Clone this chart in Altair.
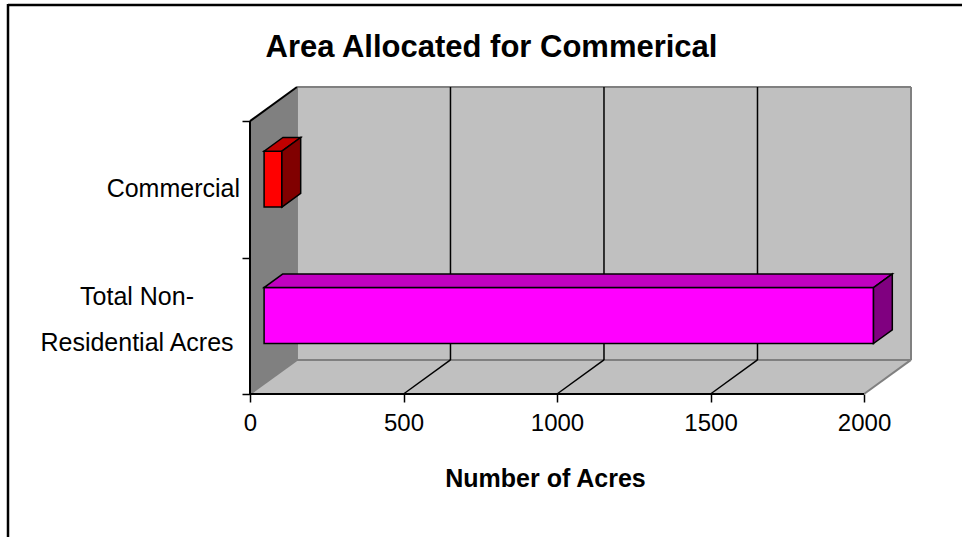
import altair as alt
import pandas as pd

# ---- data ----------------------------------------------------------------
categories = ["Total Non-Residential Acres", "Commercial"]
label_lines = [["Total Non-", "Residential Acres"], ["Commercial"]]
acres = [1985, 58]
front_colors = ["#FF00FF", "#FF0000"]
top_colors = ["#C000C0", "#C00000"]
side_colors = ["#800080", "#800000"]
x_ticks = [0, 500, 1000, 1500, 2000]

# ---- 3-D box geometry (oblique projection in data units) ------------------
X_MAX = 2000          # front-plane extent of the value axis
DEPTH_X = 153         # horizontal shift of the back wall, in acres
DEPTH_Y = 0.25        # vertical shift of the back wall, in category bands
N_BANDS = len(categories)
BAR_HALF = 0.205      # half bar thickness, in bands
D0, D1 = 0.3, 0.7     # bar depth span (0 = front plane, 1 = back wall)

FONT = "Liberation Sans"

x_scale = alt.Scale(domain=[0, X_MAX + DEPTH_X], nice=False, zero=False)
y_scale = alt.Scale(domain=[0, N_BANDS + DEPTH_Y], nice=False, zero=False)


def proj(v, h, d):
    """Project (value, height, depth) onto the chart plane."""
    return v + d * DEPTH_X, h + d * DEPTH_Y


# back wall
back_wall = pd.DataFrame([{
    "x": DEPTH_X, "x2": X_MAX + DEPTH_X, "y": DEPTH_Y, "y2": N_BANDS + DEPTH_Y}])
# floor: horizontal-edged parallelogram
floor = pd.DataFrame([
    {"y": 0.0, "x": 0.0, "x2": float(X_MAX)},
    {"y": DEPTH_Y, "x": DEPTH_X, "x2": X_MAX + DEPTH_X},
])
# left side wall: vertical-edged parallelogram
side_wall = pd.DataFrame([
    {"x": 0.0, "y": 0.0, "y2": float(N_BANDS)},
    {"x": DEPTH_X, "y": DEPTH_Y, "y2": N_BANDS + DEPTH_Y},
])

# grid lines on the back wall and across the floor
grid_back = pd.DataFrame([{"x": v + DEPTH_X, "y": DEPTH_Y, "y2": N_BANDS + DEPTH_Y}
                          for v in x_ticks[1:-1]])
grid_floor = pd.DataFrame([{"x": v, "y": 0.0, "x2": v + DEPTH_X, "y2": DEPTH_Y}
                           for v in x_ticks[1:-1]])

# gray outline edges of the box
gray_edges = pd.DataFrame([
    {"x": 0.0, "y": 0.0, "x2": DEPTH_X, "y2": DEPTH_Y},                       # wall/floor seam
    {"x": DEPTH_X, "y": DEPTH_Y, "x2": X_MAX + DEPTH_X, "y2": DEPTH_Y},       # floor back edge
    {"x": float(X_MAX), "y": 0.0, "x2": X_MAX + DEPTH_X, "y2": DEPTH_Y},      # floor right edge
    {"x": X_MAX + DEPTH_X, "y": DEPTH_Y, "x2": X_MAX + DEPTH_X, "y2": N_BANDS + DEPTH_Y},
    {"x": DEPTH_X, "y": N_BANDS + DEPTH_Y, "x2": X_MAX + DEPTH_X, "y2": N_BANDS + DEPTH_Y},
    {"x": DEPTH_X, "y": DEPTH_Y, "x2": DEPTH_X, "y2": N_BANDS + DEPTH_Y},     # back wall left edge
])
# black edges: value axis line, category axis line, top of side wall
black_edges = pd.DataFrame([
    {"x": 0.0, "y": 0.0, "x2": float(X_MAX), "y2": 0.0},
    {"x": 0.0, "y": 0.0, "x2": 0.0, "y2": float(N_BANDS)},
    {"x": 0.0, "y": float(N_BANDS), "x2": DEPTH_X, "y2": N_BANDS + DEPTH_Y},
])

# bar faces
fronts, tops, sides = [], [], []
for i, (cat, v) in enumerate(zip(categories, acres)):
    c = i + 0.5
    lo, hi = c - BAR_HALF, c + BAR_HALF
    fx0, fy0 = proj(0, lo, D0)
    fx1, fy1 = proj(v, hi, D0)
    fronts.append({"cat": cat, "x": fx0, "x2": fx1, "y": fy0, "y2": fy1,
                   "fill": front_colors[i]})
    for d in (D0, D1):
        ax, ay = proj(0, hi, d)
        bx, _ = proj(v, hi, d)
        tops.append({"cat": cat, "y": ay, "x": ax, "x2": bx, "fill": top_colors[i]})
        sx, sy0 = proj(v, lo, d)
        _, sy1 = proj(v, hi, d)
        sides.append({"cat": cat, "x": sx, "y": sy0, "y2": sy1, "fill": side_colors[i]})
fronts, tops, sides = pd.DataFrame(fronts), pd.DataFrame(tops), pd.DataFrame(sides)

# category labels: y of the first text line, in bands
labels = pd.DataFrame({"cat": categories,
                       "text": ["\n".join(l) for l in label_lines],
                       "lines": [len(l) for l in label_lines],
                       "x0": [0, 0],
                       "y": [0.71, 1.5]})

# ---- layers --------------------------------------------------------------
X = lambda f="x": alt.X(f"{f}:Q", scale=x_scale, axis=None)
Y = lambda f="y": alt.Y(f"{f}:Q", scale=y_scale, axis=None)

wall = alt.Chart(back_wall).mark_rect(fill="#C0C0C0").encode(
    x=X(), x2="x2:Q", y=Y(), y2="y2:Q")

floor_l = alt.Chart(floor).mark_area(fill="#C0C0C0", orient="horizontal").encode(
    y=Y(), x=alt.X("x:Q", scale=x_scale, axis=None, stack=None), x2="x2:Q")

side_l = alt.Chart(side_wall).mark_area(fill="#808080", orient="vertical").encode(
    x=X(), y=alt.Y("y:Q", scale=y_scale, axis=None, stack=None), y2="y2:Q")

gray_l = alt.Chart(gray_edges).mark_rule(stroke="#808080", strokeWidth=2).encode(
    x=X(), y=Y(), x2="x2:Q", y2="y2:Q")

grid_b = alt.Chart(grid_back).mark_rule(stroke="black", strokeWidth=1.5).encode(
    x=X(), y=Y(), y2="y2:Q")
grid_f = alt.Chart(grid_floor).mark_rule(stroke="black", strokeWidth=1.5).encode(
    x=X(), y=Y(), x2="x2:Q", y2="y2:Q")

black_l = alt.Chart(black_edges).mark_rule(stroke="black", strokeWidth=2).encode(
    x=X(), y=Y(), x2="x2:Q", y2="y2:Q")

# axes carrying ticks and labels
x_axis = alt.Chart(pd.DataFrame({"x": [0], "y0": [0]})).mark_point(opacity=0).encode(
    x=alt.X("x:Q", scale=x_scale,
            axis=alt.Axis(values=x_ticks, format="d", domain=False, grid=False,
                          tickSize=8, tickWidth=1.5, tickColor="black",
                          labelFont=FONT, labelFontSize=24, labelColor="black",
                          labelPadding=9, labelFlush=False,
                          title="Number of Acres", titleFont=FONT, titleFontSize=25,
                          titleFontWeight="bold", titleColor="black",
                          titleX=295, titleY=84, titleBaseline="middle")),
    y=alt.Y("y0:Q", scale=y_scale,
            axis=alt.Axis(values=[0, 1, 2], domain=False, grid=False, labels=False,
                          tickSize=8, tickWidth=1.5, tickColor="black", title=None)),
)

# single-line labels sit flush right; wrapped labels are centred on their lines
label_base = alt.Chart(labels).encode(x=X("x0"), y=Y(), text="text:N")
cat_single = label_base.transform_filter("datum.lines == 1").mark_text(
    align="right", baseline="middle", dx=-10, font=FONT, fontSize=25, color="black")
cat_wrapped = label_base.transform_filter("datum.lines > 1").mark_text(
    align="center", baseline="middle", dx=-113, font=FONT, fontSize=25,
    lineBreak="\n", lineHeight=46, color="black")

front_l = alt.Chart(fronts).mark_rect(stroke="black", strokeWidth=1.5).encode(
    x=X(), x2="x2:Q", y=Y(), y2="y2:Q", color=alt.Color("fill:N", scale=None))
top_l = alt.Chart(tops).mark_area(orient="horizontal", stroke="black", strokeWidth=1.5).encode(
    y=Y(), x=alt.X("x:Q", scale=x_scale, axis=None, stack=None), x2="x2:Q",
    detail="cat:N", color=alt.Color("fill:N", scale=None))
side_f = alt.Chart(sides).mark_area(orient="vertical", stroke="black", strokeWidth=1.5).encode(
    x=X(), y=alt.Y("y:Q", scale=y_scale, axis=None, stack=None), y2="y2:Q",
    detail="cat:N", color=alt.Color("fill:N", scale=None))

# outer frame of the chart
frame = alt.Chart(pd.DataFrame({"k": [0]})).mark_rule(stroke="black", strokeWidth=2.5).encode(
    x=alt.value(-242), x2=alt.value(712), y=alt.value(-82))
frame_left = alt.Chart(pd.DataFrame({"k": [0]})).mark_rule(stroke="black", strokeWidth=2.5).encode(
    x=alt.value(-242), y=alt.value(-83), y2=alt.value(450))

chart = alt.layer(
    x_axis, wall, floor_l, side_l, gray_l, grid_b, grid_f, black_l,
    front_l, top_l, side_f, cat_single, cat_wrapped, frame, frame_left,
).resolve_axis(
    x="independent", y="independent"
).properties(
    width=661, height=307,
    title=alt.Title("Area Allocated for Commerical", font=FONT, fontSize=31,
                    fontWeight="bold", color="black", anchor="middle",
                    dx=-89, dy=83, offset=22),
    padding={"left": 250, "top": 87, "right": 51, "bottom": 143},
    autosize=alt.AutoSizeParams(type="none"),
    background="white",
).configure_view(stroke=None)

chart.save("out.html", embed_options={"renderer": "svg", "actions": False})
